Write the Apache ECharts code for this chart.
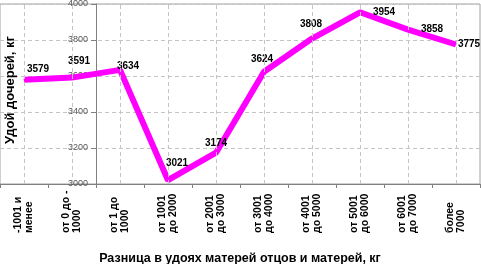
<!DOCTYPE html>
<html>
<head>
	<meta charset="UTF-8">
	<title>Удой дочерей</title>
	<script src="https://cdn.jsdelivr.net/npm/echarts@6/dist/echarts.min.js"></script>
	<style>
		html, body { margin: 0; padding: 0; background: #fff; }
		#chart { width: 481px; height: 264px; }
	</style>
</head>
<body>
	<div id="chart"></div>
	<script>
		var categories = ["-1001 и\nменее", "от 0 до -\n1000", "от 1 до\n1000", "от 1001\nдо 2000", "от 2001\nдо 3000",
			"от 3001\nдо 4000", "от 4001\nдо 5000", "от 5001\nдо 6000", "от 6001\nдо 7000", "более\n7000"];
		var milk = [3579, 3591, 3634, 3021, 3174, 3624, 3808, 3954, 3858, 3775];
		var yTicks = [3000, 3200, 3400, 3600, 3800, 4000];
		// сдвиг подписей значений (как в исходной диаграмме)
		var labelShift = [[14, -11], [7, -16], [8, -4], [9, -17], [0, -9], [-2, -12], [-1, -14], [24, 0], [24, 0], [13, 0]];

		var font = '"Liberation Sans", Arial, sans-serif';
		var gridColor = '#c4c4c4';

		var myChart = echarts.init(document.getElementById('chart'));
		var option = {
			animation: false,
			backgroundColor: '#fff',
			grid: {
				left: 0, right: 1, top: 4, bottom: 80,
				outerBoundsMode: 'none',
				containLabel: false,
				show: true,
				borderColor: '#a0a0a0',
				borderWidth: 1
			},
			xAxis: {
				type: 'category',
				data: categories,
				boundaryGap: true,
				name: 'Разница в удоях матерей отцов и матерей, кг',
				nameLocation: 'middle',
				nameGap: 68,
				nameTextStyle: { fontFamily: font, fontSize: 12.5, fontWeight: 'bold', color: '#000' },
				axisLine: { lineStyle: { color: '#808080', width: 1 } },
				axisTick: { show: true, length: 4, lineStyle: { color: '#808080' } },
				axisLabel: {
					rotate: 90,
					margin: 10,
					interval: 0,
					fontFamily: font,
					fontSize: 10.5,
					fontWeight: 'bold',
					color: '#000',
					lineHeight: 11,
					formatter: function(v) {
						return v.split('\n').map(function(s) { return '{a|' + s + '}'; }).join('\n');
					},
					rich: {
						a: { align: 'left', width: 39, fontFamily: font, fontSize: 10.5, fontWeight: 'bold', color: '#000', lineHeight: 11 }
					}
				},
				splitLine: { show: false }
			},
			yAxis: {
				type: 'value',
				min: yTicks[0],
				max: yTicks[yTicks.length - 1],
				interval: yTicks[1] - yTicks[0],
				offset: -96,
				name: 'Удой дочерей, кг',
				nameLocation: 'middle',
				nameGap: 79,
				nameTextStyle: { fontFamily: font, fontSize: 13, fontWeight: 'bold', color: '#000', padding: [0, 0, 0, 8] },
				axisLine: { show: true, lineStyle: { color: '#808080', width: 1 } },
				axisTick: { show: true, length: 5, lineStyle: { color: '#808080' } },
				axisLabel: {
					margin: 8, fontFamily: font, fontSize: 9, color: '#555',
					formatter: function(v) { return String(v); }
				},
				splitLine: { show: true, lineStyle: { color: gridColor, type: [4, 3], width: 1 } }
			},
			series: [
				{
					type: 'line',
					data: [],
					silent: true,
					markLine: {
						silent: true,
						symbol: ['none', 'none'],
						label: { show: false },
						lineStyle: { color: gridColor, type: [4, 3], width: 1 },
						data: categories.map(function(c) { return { xAxis: c }; })
					}
				},
				{
					type: 'line',
					data: milk.map(function(v, i) {
						return { value: v, label: { offset: labelShift[i] } };
					}),
					showSymbol: true,
					symbol: 'circle',
					symbolSize: 1,
					itemStyle: { color: '#ff00ff' },
					lineStyle: { color: '#ff00ff', width: 6 },
					label: {
						show: true,
						position: 'inside',
						fontFamily: font,
						fontSize: 10,
						fontWeight: 'bold',
						color: '#000'
					}
				}
			]
		};
		myChart.setOption(option);
	</script>
</body>
</html>
